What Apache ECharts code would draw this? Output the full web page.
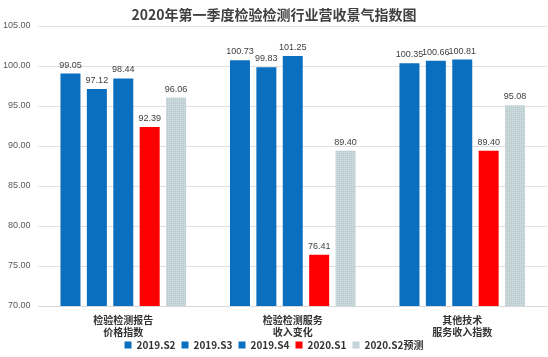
<!DOCTYPE html>
<html><head><meta charset="utf-8">
<script src="https://cdn.jsdelivr.net/npm/echarts@6/dist/echarts.min.js"></script>
<style>html,body{margin:0;padding:0;background:#fff}#c{width:548px;height:357px}</style>
</head><body><div id="c"></div>
<script>
const categories = ['检验检测报告\n价格指数', '检验检测服务\n收入变化', '其他技术\n服务收入指数'];
const seriesNames = ['2019.S2', '2019.S3', '2019.S4', '2020.S1', '2020.S2预测'];
const s2019S2 = [99.05, 100.73, 100.35];
const s2019S3 = [97.12, 99.83, 100.66];
const s2019S4 = [98.44, 101.25, 100.81];
const s2020S1 = [92.39, 76.41, 89.40];
const s2020S2 = [96.06, 89.40, 95.08];
const yTicks = [70, 75, 80, 85, 90, 95, 100, 105];

const colors = ['#0B6FBF', '#0B6FBF', '#0B6FBF', '#FF0000', '#BFD0D5'];
const data = [s2019S2, s2019S3, s2019S4, s2020S1, s2020S2];
const font = '"Microsoft YaHei","Noto Sans CJK SC",sans-serif';

const chart = echarts.init(document.getElementById('c'));
chart.setOption({
  animation: false,
  title: {
    text: '2020年第一季度检验检测行业营收景气指数图',
    left: 'center', top: 3,
    textStyle: {fontSize: 14, fontWeight: 'bold', color: '#404040', fontFamily: font}
  },
  legend: {
    bottom: 2, left: 'center',
    itemWidth: 7, itemHeight: 7, itemGap: 6,
    icon: 'rect',
    textStyle: {fontSize: 10, fontWeight: 'bold', color: '#333', fontFamily: font},
    data: seriesNames
  },
  grid: {left: 37, right: 1, top: 26, bottom: 51},
  xAxis: {
    type: 'category', data: categories,
    axisTick: {show: false},
    axisLine: {lineStyle: {color: '#D9D9D9'}},
    axisLabel: {fontSize: 10, color: '#333', fontWeight: 'bold', fontFamily: font, lineHeight: 12, margin: 8}
  },
  yAxis: {
    type: 'value', min: yTicks[0], max: yTicks[yTicks.length - 1], interval: 5,
    axisLine: {show: false}, axisTick: {show: false},
    splitLine: {lineStyle: {color: '#E0E0E0'}},
    axisLabel: {fontSize: 9, color: '#595959', formatter: v => v.toFixed(2), margin: 8}
  },
  series: seriesNames.map((n, i) => ({
    name: n, type: 'bar', data: data[i],
    barWidth: 20, barGap: '32%',
    itemStyle: i === 4 ? {color: colors[i], decal: {symbol: 'rect', symbolSize: 1, dashArrayX: [1, 1], dashArrayY: [1, 1], color: 'rgba(255,255,255,0.35)'}} : {color: colors[i]},
    label: {show: true, position: 'top', fontSize: 9, color: '#404040', formatter: p => p.value.toFixed(2), distance: 4}
  }))
});
</script></body></html>
